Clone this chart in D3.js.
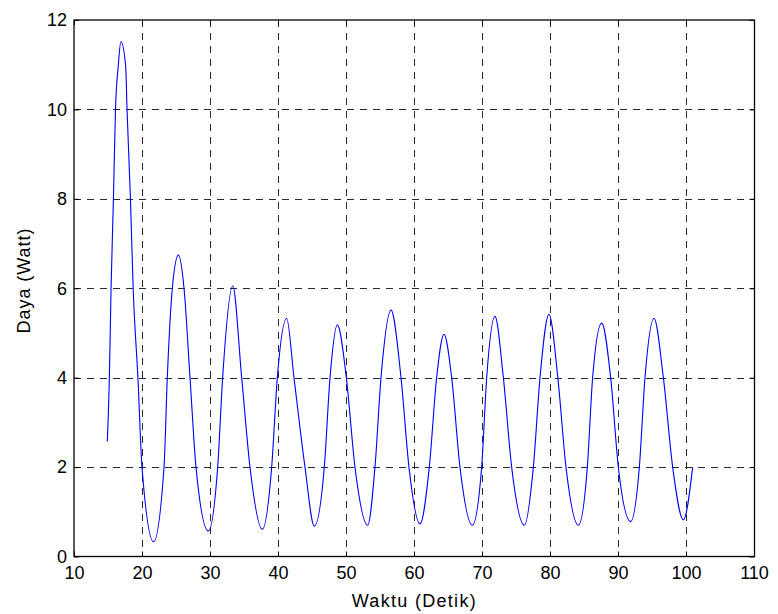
<!DOCTYPE html>
<html>
<head>
<meta charset="utf-8">
<script src="https://cdn.jsdelivr.net/npm/d3@7"></script>
<style>
  html, body { margin: 0; padding: 0; background: #ffffff; }
  svg { display: block; }
  text { font-family: "Liberation Sans", Arial, Helvetica, sans-serif; fill: #000; }
</style>
</head>
<body>
<svg id="chart" width="778" height="614"></svg>
<script>
// ---- Data ----
const time = [
  14.9, 15.2, 15.45, 15.8, 16.1, 16.5, 16.9, 17.6, 17.8, 18.3, 18.7, 19.4, 20.0,
  21.7, 23.24, 23.72, 24.46, 25.35, 26.18, 27.06, 27.94,
  29.75, 31.13, 31.86, 33.34, 34.66, 35.88,
  37.70, 39.07, 39.90, 41.27, 42.35, 43.97,
  45.34, 46.81, 47.65, 48.73, 50.05, 51.32,
  53.19, 54.26, 55.15, 56.62, 58.09, 59.26,
  60.88, 62.25, 63.33, 64.41, 65.54, 66.76,
  68.58, 69.95, 70.69, 71.91, 73.14, 74.36,
  76.23, 77.55, 78.53, 79.85, 81.15, 82.35,
  84.17, 85.49, 86.27, 87.60, 88.92, 90.05,
  91.86, 93.14, 93.97, 95.29, 96.67, 98.04,
  99.61, 100.98
];
const power = [
  2.57, 4.0, 6.0, 8.0, 10.0, 10.96, 11.52, 10.96, 10.0, 8.0, 6.0, 4.0, 2.0,
  0.33, 2.0, 4.0, 6.0, 6.74, 6.0, 4.0, 2.0,
  0.57, 2.0, 4.0, 6.05, 4.0, 2.0,
  0.61, 2.0, 4.0, 5.33, 4.0, 2.0,
  0.68, 2.0, 4.0, 5.18, 4.0, 2.0,
  0.70, 2.0, 4.0, 5.51, 4.0, 2.0,
  0.73, 2.0, 4.0, 4.97, 4.0, 2.0,
  0.70, 2.0, 4.0, 5.37, 4.0, 2.0,
  0.70, 2.0, 4.0, 5.42, 4.0, 2.0,
  0.70, 2.0, 4.0, 5.22, 4.0, 2.0,
  0.78, 2.0, 4.0, 5.33, 4.0, 2.0,
  0.82, 2.0
];
const xTicks = [10, 20, 30, 40, 50, 60, 70, 80, 90, 100, 110];
const yTicks = [0, 2, 4, 6, 8, 10, 12];
const xLabel = "Waktu (Detik)";
const yLabel = "Daya (Watt)";

// ---- Layout ----
const mLeft = 74, mRight = 754.5, mTop = 20, mBottom = 556.5;
const svg = d3.select("#chart");

const x = d3.scaleLinear().domain([10, 110]).range([mLeft, mRight - 0.5]);
const y = d3.scaleLinear().domain([0, 12]).range([mBottom, mTop]);

// grid
const grid = svg.append("g").attr("stroke", "#2a2a2a").attr("stroke-width", 1)
  .attr("stroke-dasharray", "7,6").attr("shape-rendering", "crispEdges");
grid.selectAll("line.v").data(xTicks.slice(1, -1)).join("line")
  .attr("x1", d => Math.round(x(d)) + 0.5).attr("x2", d => Math.round(x(d)) + 0.5)
  .attr("y1", mTop).attr("y2", mBottom);
grid.selectAll("line.h").data(yTicks.slice(1, -1)).join("line")
  .attr("y1", d => Math.round(y(d)) + 0.5).attr("y2", d => Math.round(y(d)) + 0.5)
  .attr("x1", mLeft).attr("x2", mRight);

// data line
const pts = time.map((t, i) => [t, power[i]]);
const line = d3.line().x(d => x(d[0])).y(d => y(d[1])).curve(d3.curveMonotoneX);
svg.append("path").datum(pts)
  .attr("fill", "none").attr("stroke", "#0000ff").attr("stroke-width", 1.1)
  .attr("d", line);

// axes
const tickLen = 5;
const xAxisB = d3.axisBottom(x).tickValues(xTicks).tickSize(-tickLen).tickPadding(10);
const xAxisT = d3.axisTop(x).tickValues(xTicks).tickSize(-tickLen).tickFormat("");
const yAxisL = d3.axisLeft(y).tickValues(yTicks).tickSize(-tickLen).tickPadding(7);
const yAxisR = d3.axisRight(y).tickValues(yTicks).tickSize(-tickLen).tickFormat("");

function style(g) {
  g.select(".domain").remove();
  g.selectAll(".tick line").attr("stroke", "#000");
  g.selectAll(".tick text").attr("font-size", 18).attr("fill", "#000")
    .attr("font-family", "'Liberation Sans', Arial, sans-serif");
}
svg.append("g").attr("transform", `translate(0,${mBottom})`).call(xAxisB).call(style);
svg.append("g").attr("transform", `translate(0,${mTop})`).call(xAxisT).call(style);
svg.append("g").attr("transform", `translate(${mLeft},0)`).call(yAxisL).call(style);
svg.append("g").attr("transform", `translate(${mRight},0)`).call(yAxisR).call(style);

// box
svg.append("rect").attr("x", mLeft).attr("y", mTop)
  .attr("width", mRight - mLeft).attr("height", mBottom - mTop)
  .attr("fill", "none").attr("stroke", "#000").attr("stroke-width", 1.3);

// labels
svg.append("text").attr("x", 413.7).attr("y", 606.5)
  .attr("text-anchor", "middle").attr("font-size", 18)
  .attr("textLength", 124).attr("lengthAdjust", "spacing").text(xLabel);
svg.append("text").attr("transform", `translate(29.5,281) rotate(-90)`)
  .attr("text-anchor", "middle").attr("font-size", 18)
  .attr("textLength", 105).attr("lengthAdjust", "spacing").text(yLabel);
</script>
</body>
</html>
